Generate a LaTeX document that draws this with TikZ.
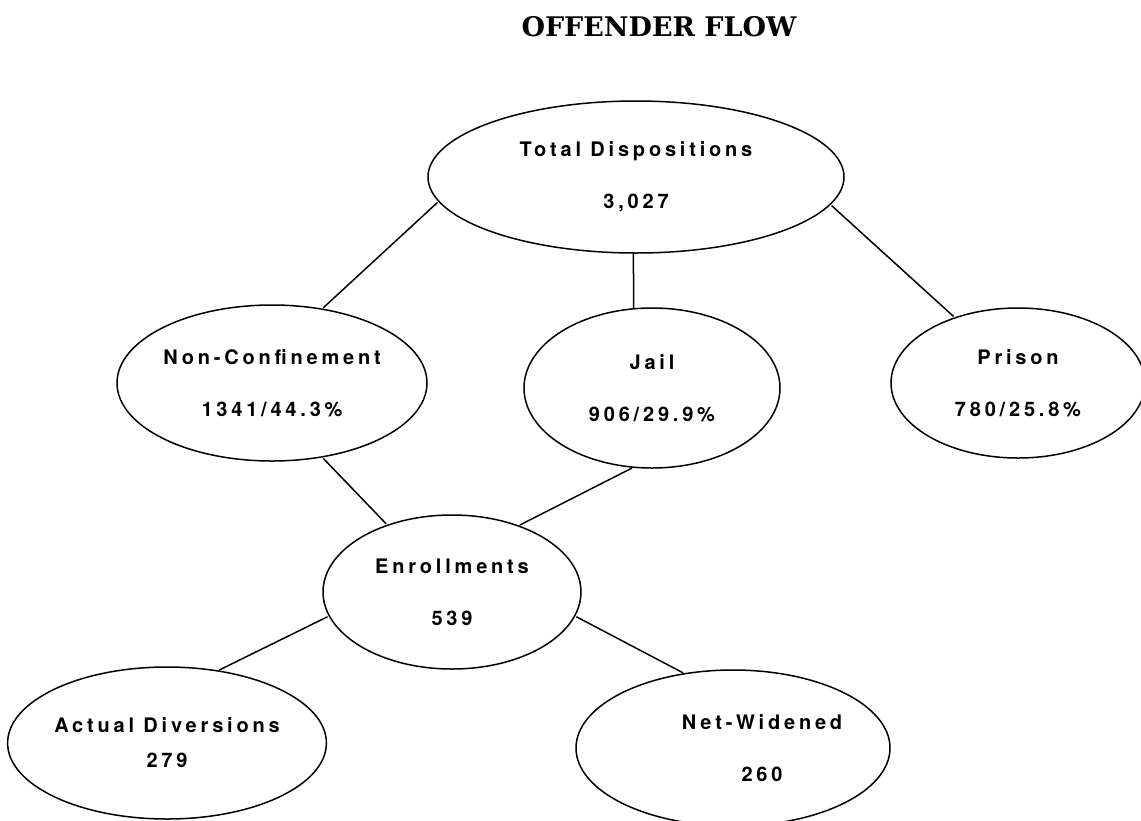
\documentclass[tikz,border=0pt]{standalone}
\usepackage{fontspec}
\setmainfont{Liberation Serif}
\newfontfamily\titlefont{DejaVu Serif}
\newfontfamily\flowfont[LetterSpace=19]{TeX Gyre Heros}
\usetikzlibrary{shapes.geometric}

\begin{document}
\begin{tikzpicture}[x=1pt,y=-1pt,
  oval/.style={draw,ellipse,line width=1.5pt,inner sep=0pt,outer sep=0pt,align=center,
    font=\flowfont\bfseries\fontsize{20}{52}\selectfont},
  link/.style={line width=1.5pt,shorten <=2pt,shorten >=2pt}]
\useasboundingbox (0,0) rectangle (1141,820);
\node[anchor=base,font=\titlefont\bfseries\fontsize{27}{27}\selectfont] (title) at (659,36) {OFFENDER FLOW};
% top level
\node[oval,minimum width=416pt,minimum height=152pt] (tot) at (636,177) {Total Dispositions\\3,027};
% dispositions
\node[oval,minimum width=310pt,minimum height=156pt] (nc) at (272,383) {Non-Confinement\\1341/44.3\%};
\node[oval,minimum width=256pt,minimum height=160pt] (jail) at (652,388) {Jail\\906/29.9\%};
\node[oval,minimum width=254pt,minimum height=150pt] (pris) at (1018,383) {Prison\\780/25.8\%};
% program
\node[oval,minimum width=258pt,minimum height=154pt] (enr) at (452,592) {Enrollments\\539};
\node[oval,minimum width=312pt,minimum height=152pt] (act) at (167,743) {Actual Diversions\\[-17pt]279};
\node[oval,minimum width=314pt,minimum height=156pt] (net) at (733,748) {\hspace*{58pt}Net-Widened\\\hspace*{58pt}260};
\draw[link] (tot.187) -- (nc.56);
\draw[link,shorten <=0pt,shorten >=0pt] (tot.268) -- (jail.103);
\draw[link] (tot.352) -- (pris.134);
\draw[link] (nc.304) -- (enr.134);
\draw[link] (jail.257) -- (enr.45);
\draw[link] (enr.191) -- (act.55);
\draw[link] (enr.349) -- (net.123);
\end{tikzpicture}
\end{document}
